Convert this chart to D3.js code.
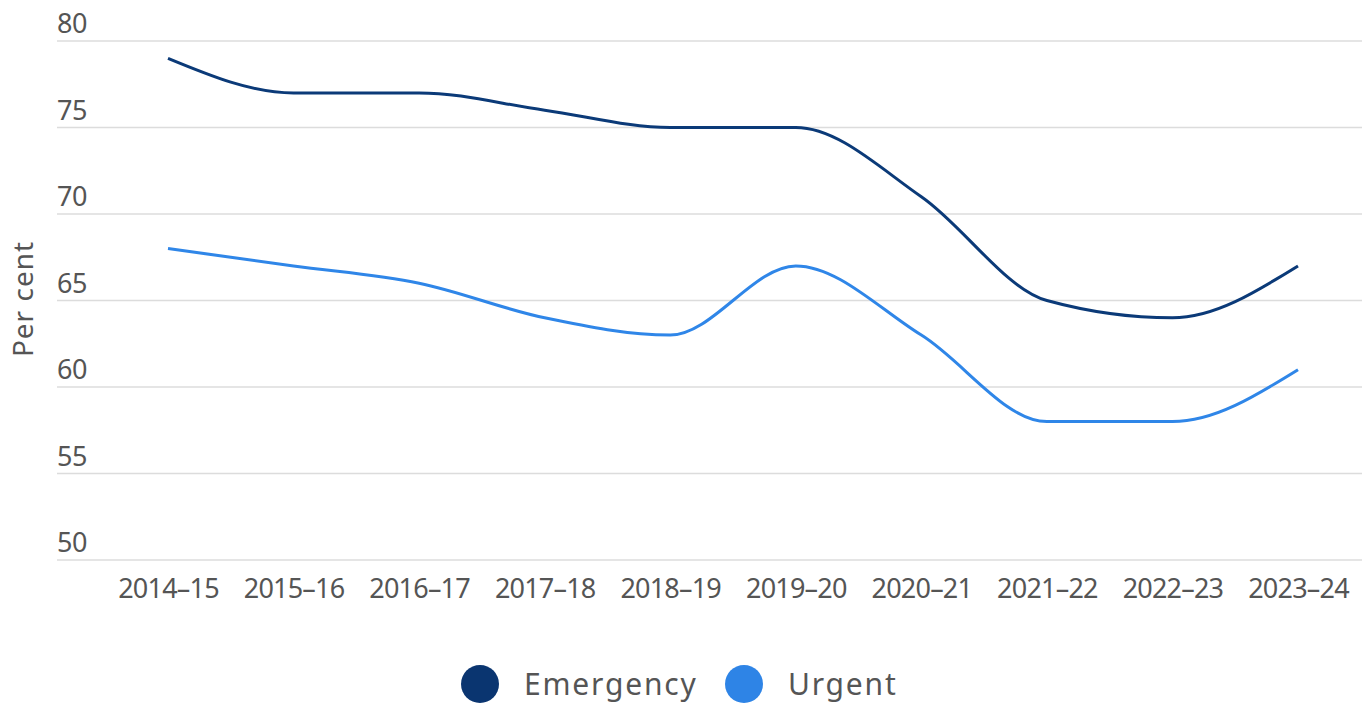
<!DOCTYPE html>
<html>
<head>
<meta charset="utf-8">
<script src="https://cdn.jsdelivr.net/npm/d3@7"></script>
<style>
  body { margin: 0; background: #fff; }
  svg { display: block; }
  text { font-family: "Noto Sans", sans-serif; fill: #555; }
</style>
</head>
<body>
<svg></svg>
<script>
let years = ['2014–15', '2015–16', '2016–17', '2017–18', '2018–19', '2019–20', '2020–21', '2021–22', '2022–23', '2023–24']
let emergency = [79, 77, 77, 76, 75, 75, 71, 65, 64, 67]
let urgent = [68, 67, 66, 64, 63, 67, 63, 58, 58, 61]
let yTicks = [50, 55, 60, 65, 70, 75, 80]
let seriesNames = ['Emergency', 'Urgent']
let colors = ['#0b3a78', '#2f86e8']

let w = 1368
let h = 705

let svg = d3.select('svg').attr('width', w).attr('height', h)

let xScale = d3.scalePoint().domain(years).range([168, 1298])
let yScale = d3.scaleLinear().domain([50, 80]).range([560, 41])

// grid + y labels
let grid = svg.append('g')
grid.selectAll('line')
  .data(yTicks)
  .enter()
  .append('line')
  .attr('x1', 57)
  .attr('x2', 1362)
  .attr('y1', (d) => yScale(d))
  .attr('y2', (d) => yScale(d))
  .attr('stroke', '#dcdcdc')
  .attr('stroke-width', 1.5)

grid.selectAll('text')
  .data(yTicks)
  .enter()
  .append('text')
  .attr('x', 57)
  .attr('y', (d) => yScale(d) - 8)
  .attr('font-size', 27)
  .attr('letter-spacing', -0.5)
  .text((d) => d)

// x labels
let xAxis = d3.axisBottom(xScale).tickSize(0).tickPadding(0)
let gx = svg.append('g')
  .attr('transform', 'translate(0, 579)')
  .call(xAxis)
gx.select('.domain').remove()
gx.selectAll('text')
  .attr('font-size', 27)
  .attr('letter-spacing', -0.8)
  .attr('font-family', '"Noto Sans", sans-serif')
  .attr('fill', '#555')

// y title
svg.append('text')
  .attr('transform', 'translate(33, 299) rotate(-90)')
  .attr('text-anchor', 'middle')
  .attr('font-size', 28)
  .attr('letter-spacing', 1)
  .text('Per cent')

// lines
let line = d3.line()
  .x((d, i) => xScale(years[i]))
  .y((d) => yScale(d))
  .curve(d3.curveMonotoneX)

let allSeries = [emergency, urgent]
svg.selectAll('.series')
  .data(allSeries)
  .enter()
  .append('path')
  .attr('class', 'series')
  .attr('d', (d) => line(d))
  .attr('fill', 'none')
  .attr('stroke', (d, i) => colors[i])
  .attr('stroke-width', 3)

// legend
let legendX = [480, 744]
let leg = svg.append('g')
seriesNames.forEach((name, i) => {
  leg.append('circle')
    .attr('cx', legendX[i])
    .attr('cy', 684)
    .attr('r', 19)
    .attr('fill', i == 0 ? '#0a3570' : '#2e84e6')
  leg.append('text')
    .attr('x', legendX[i] + 44)
    .attr('y', 695)
    .attr('font-size', 30)
    .attr('letter-spacing', 1.8)
    .text(name)
})
</script>
</body>
</html>
